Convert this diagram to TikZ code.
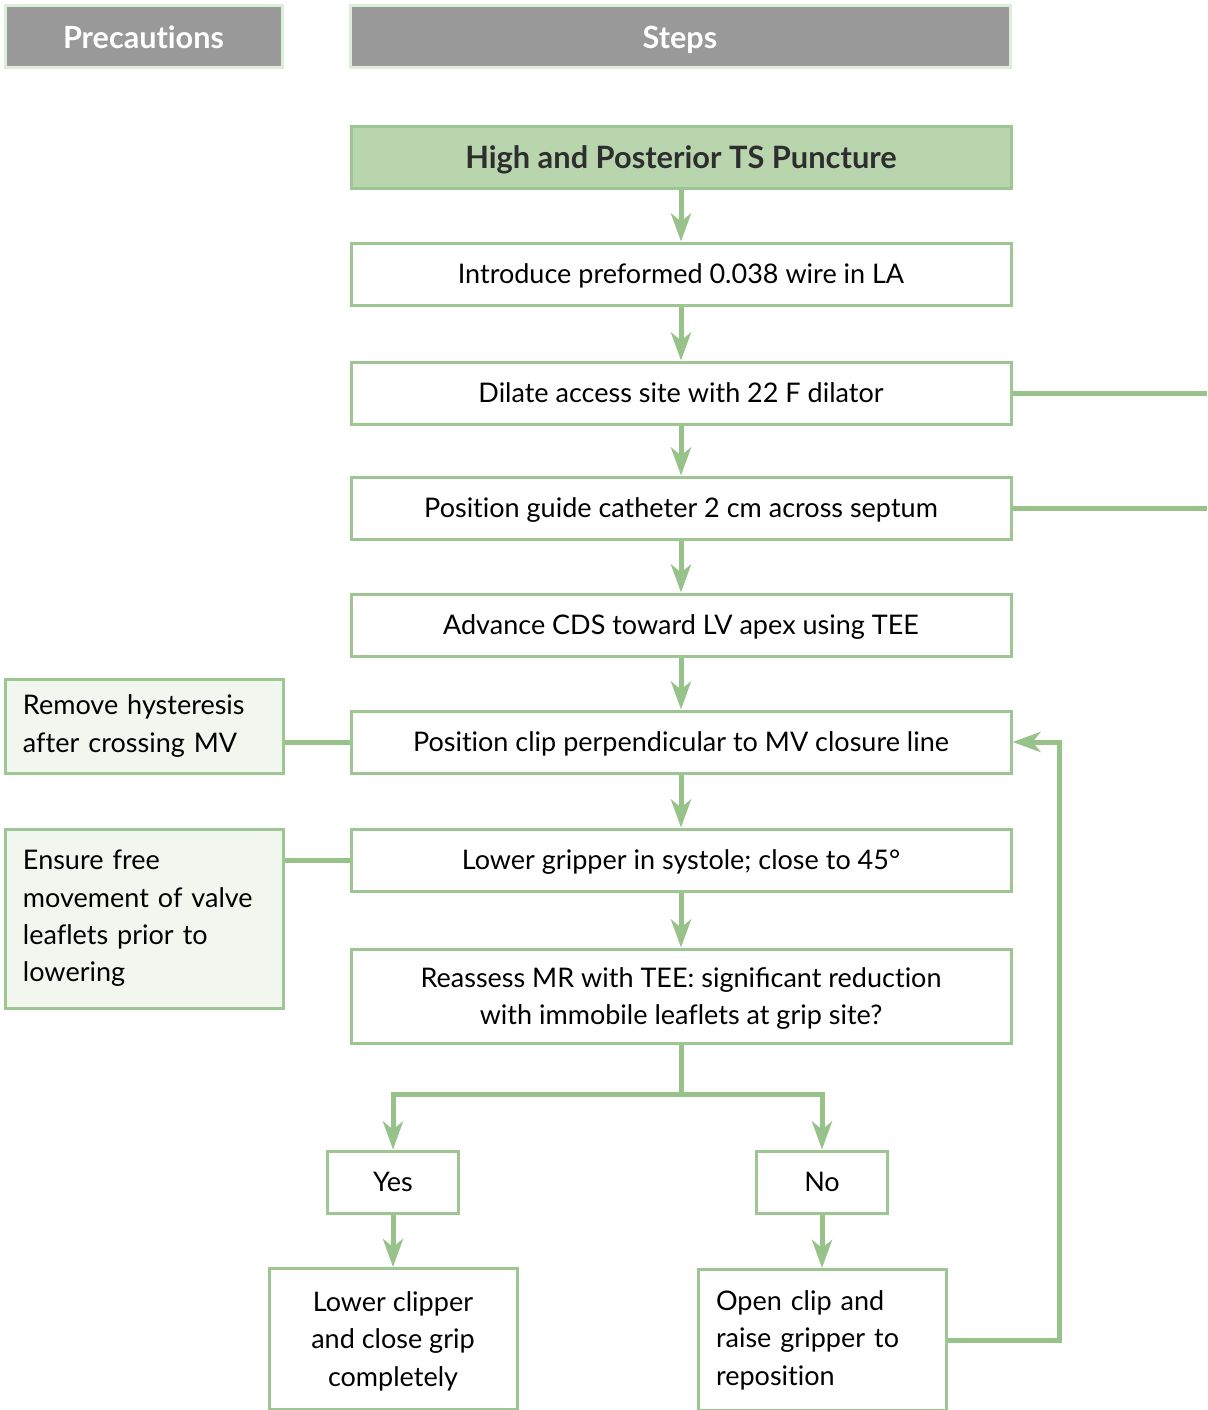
\documentclass[tikz,border=0pt]{standalone}
\usepackage{fontspec}
\setmainfont{Lato}[Ligatures=NoCommon]
\usetikzlibrary{positioning,arrows.meta,calc}
\definecolor{leaf}{HTML}{97C28A}
\definecolor{rim}{HTML}{9DC692}
\definecolor{sage}{HTML}{B9D5AE}
\definecolor{mist}{HTML}{F1F6EF}
\definecolor{slate}{HTML}{999999}
\definecolor{haze}{HTML}{DDEDD7}
\definecolor{ink}{HTML}{2E2E2E}

\begin{document}
\begin{tikzpicture}[x=0.5pt,y=-0.5pt,
    txt/.style={draw=rim, line width=1.5pt, font=\fontsize{13.5}{18.7}\selectfont},
    head/.style={draw=haze, line width=1.5pt, fill=slate, text=white,
      font=\fontsize{15.3}{18}\selectfont\bfseries, minimum height=31pt,
      text height=13pt, text depth=1pt},
    stepbox/.style={txt, fill=white, text depth=0pt,
      minimum width=330pt, minimum height=31pt, align=center},
    notebox/.style={txt, fill=mist, minimum width=139pt, text width=121pt, align=left},
    choice/.style={stepbox, minimum width=65.5pt},
    endbox/.style={txt, fill=white, minimum width=124pt, minimum height=70.5pt},
    link/.style={leaf, line width=2.5pt},
    flow/.style={link, -{Stealth[length=14pt,width=10pt,inset=4pt]}}]
  \useasboundingbox (0,0) rectangle (1207,1410);

  % column heads
  \node[head, minimum width=138.5pt] (hprec) at (143.5,36) {Precautions};
  \node[head, minimum width=330pt] (hstep) at (680,36) {Steps};

  % main steps
  \node[stepbox, fill=sage, text=ink, font=\fontsize{15.4}{18}\selectfont\bfseries] (ts) at (681,157) {High and Posterior TS Puncture};
  \node[stepbox] (wire) at (681,274) {Introduce preformed 0.038 wire in LA};
  \node[stepbox] (dilate) at (681,393) {Dilate access site with 22 F dilator};
  \node[stepbox] (guide) at (681,508) {Position guide catheter 2 cm across septum};
  \node[stepbox] (cds) at (681,625) {Advance CDS toward LV apex using TEE};
  \node[stepbox] (clip) at (681,742) {Position clip perpendicular to MV closure line};
  \node[stepbox] (grip) at (681,860) {Lower gripper in systole; close to 45°};
  \node[stepbox, minimum height=47pt] (mr) at (681,996)
    {Reassess MR with TEE: signiﬁcant reduction\\with immobile leaflets at grip site?};

  \node[choice] (yes) at (393,1182) {Yes};
  \node[choice] (no) at (822,1182) {No};
  \node[endbox, align=center, text depth=0pt] (lower) at (393,1339) {Lower clipper\\and close grip\\completely};
  \node[endbox, text width=106pt, align=left] (reopen) at (822,1340)
    {Open clip and\\raise gripper to\\reposition};

  % precautions
  \node[notebox, minimum height=47pt] (hyst) at (144,726) {Remove hysteresis\\after crossing MV};
  \node[notebox, minimum height=89.5pt] (free) at (144,918.5)
    {Ensure free\\movement of valve\\leaflets prior to\\lowering};

  \coordinate (edge) at (1207,0);
  \coordinate (split) at (681,1094);

  \foreach \a/\b in {ts/wire, wire/dilate, dilate/guide, guide/cds, cds/clip,
                     clip/grip, grip/mr, yes/lower, no/reopen}
    \draw[flow] (\a) -- (\b);

  \draw[link] (dilate.east) -- (dilate.east -| edge);
  \draw[link] (guide.east) -- (guide.east -| edge);
  \draw[link] (clip.west) -- (clip.west -| hyst.east);
  \draw[link] (grip.west) -- (grip.west -| free.east);

  \draw[link] (mr.south) -- (split);
  \draw[flow] (split) -| (yes);
  \draw[flow] (split) -| (no);
  \draw[flow] (reopen.east) -- ++(56pt,0) |- (clip.east);
\end{tikzpicture}
\end{document}
